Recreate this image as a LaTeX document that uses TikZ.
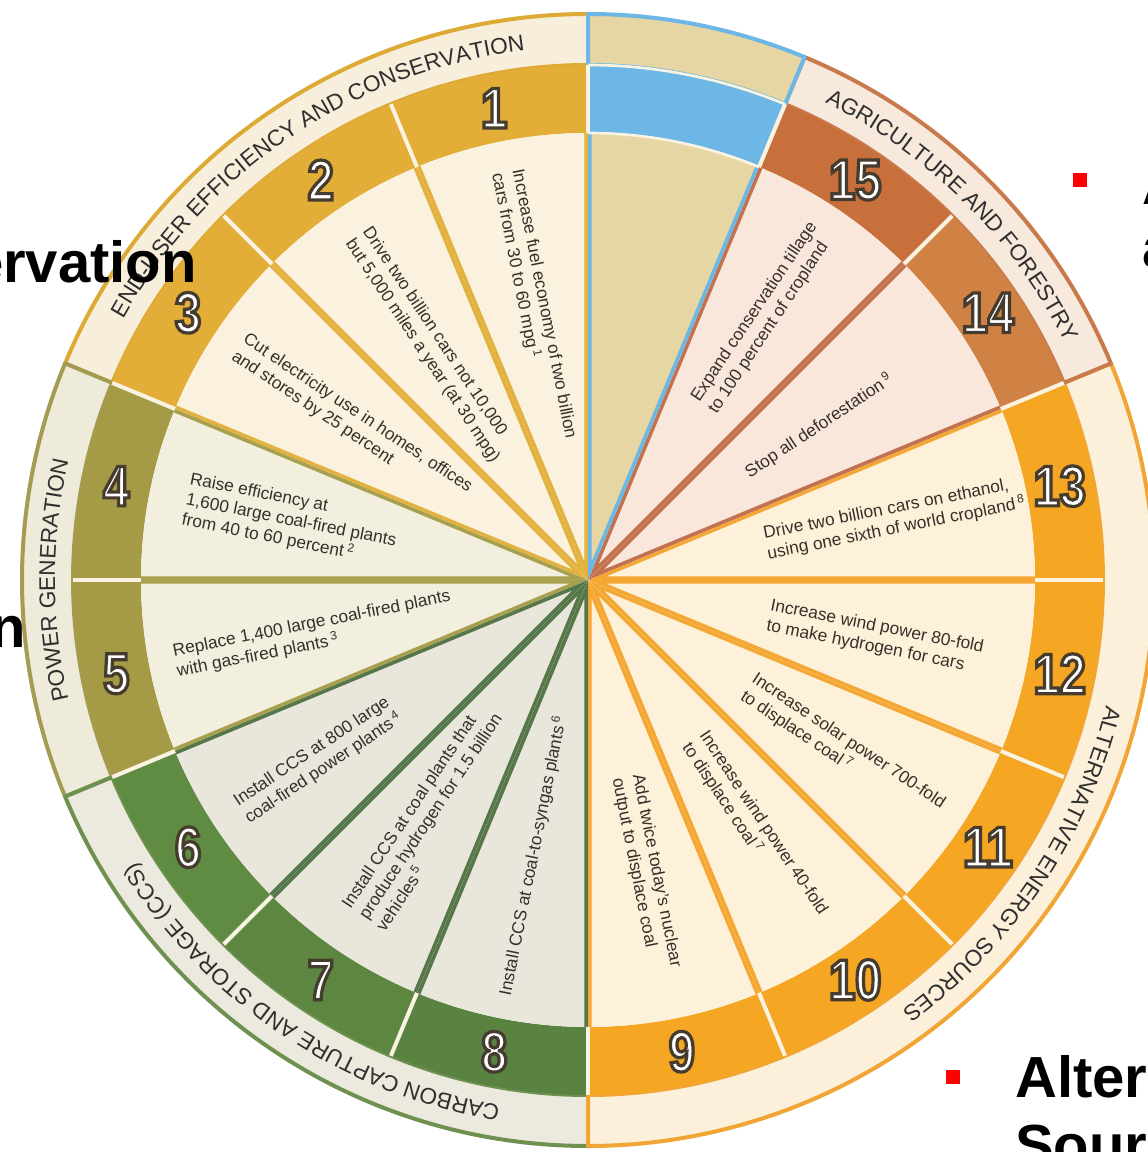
\documentclass[tikz,border=0pt]{standalone}
\usepackage{fontspec}
\setmainfont{Liberation Sans}
\newfontfamily\numfont[FakeStretch=0.82]{Liberation Sans}
\usetikzlibrary{decorations.text,calc}

\definecolor{euR}{HTML}{E3AE38}\definecolor{euW}{HTML}{FAF1DF}\definecolor{euS}{HTML}{E2B13E}\definecolor{euL}{HTML}{F8EEDC}\definecolor{euO}{HTML}{DDAA35}
\definecolor{pgR}{HTML}{A59B46}\definecolor{pgW}{HTML}{F3EFDF}\definecolor{pgS}{HTML}{A9A04E}\definecolor{pgL}{HTML}{EFEBDA}\definecolor{pgO}{HTML}{A39C52}
\definecolor{ccRa}{HTML}{5F8B42}\definecolor{ccRb}{HTML}{5D8640}\definecolor{ccRc}{HTML}{5A8241}\definecolor{ccW}{HTML}{E9E6DC}\definecolor{ccS}{HTML}{55774A}\definecolor{ccL}{HTML}{ECE9DF}\definecolor{ccO}{HTML}{6E9150}
\definecolor{alR}{HTML}{F5A724}\definecolor{alW}{HTML}{FDF1DA}\definecolor{alS}{HTML}{F4A733}\definecolor{alL}{HTML}{FCF0DB}\definecolor{alO}{HTML}{F1A535}
\definecolor{agRa}{HTML}{D08244}\definecolor{agRb}{HTML}{C8703C}\definecolor{agW}{HTML}{F9E7DB}\definecolor{agS}{HTML}{C2724E}\definecolor{agL}{HTML}{F8E9DD}\definecolor{agO}{HTML}{C97A4C}
\definecolor{blK}{HTML}{E5D6A3}\definecolor{blB}{HTML}{6DB7E6}
\definecolor{gapc}{HTML}{FAF3E2}
\definecolor{txt}{HTML}{353029}
\definecolor{lbltxt}{HTML}{2F2F2F}

\newcommand{\lblfont}{\fontsize{17}{20}\selectfont}
\newcommand{\outlined}[1]{\special{pdf:literal direct 2 Tr 2.4 w 0.27 0.23 0.18 RG}#1\special{pdf:literal direct 0 Tr}}

\tikzset{
  wtxt/.style={font=\fontsize{13}{15.5}\selectfont, text=txt, align=left, inner sep=0pt},
  numfg/.style={font=\numfont\bfseries\fontsize{43}{43}\selectfont, text=white, inner sep=0pt},
  slide/.style={font=\fontsize{43.5}{50}\selectfont\bfseries, text=black, inner sep=0pt},
  bulletbox/.style={fill=red, minimum size=10.5pt, inner sep=0pt},
}

\newcommand{\bignum}[3]{\node[numfg] (#1) at (#2:481) {\outlined{#3}};}

\begin{document}
\begin{tikzpicture}[x=0.75pt,y=0.75pt]
\useasboundingbox (-588,-572) rectangle (560,580);
\fill[white] (-588,-572) rectangle (560,580);
\clip (-588,-572) rectangle (560,580);

% label rings
\foreach \a/\b/\fc/\oc in {90/157.5/euL/euO, 157.5/202.5/pgL/pgO, 202.5/270/ccL/ccO, 270/382.5/alL/alO, 382.5/427.5/agL/agO, 427.5/450/blK/blB}
  \filldraw[fill=\fc, draw=\oc, line width=3pt, line join=round]
    (\a:515) arc[start angle=\a, end angle=\b, radius=515] -- (\b:566)
    arc[start angle=\b, end angle=\a, radius=566] -- cycle;

% number ring
\foreach \i/\c in {1/euR,2/euR,3/euR,4/pgR,5/pgR,6/ccRa,7/ccRb,8/ccRc,9/alR,10/alR,11/alR,12/alR,13/alR,14/agRa,15/agRb,16/blB} {
  \pgfmathsetmacro\s{90+22.5*(\i-1)}
  \pgfmathsetmacro\e{\s+22.5}
  \fill[\c] (\s:447) arc[start angle=\s, end angle=\e, radius=447] -- (\e:515)
    arc[start angle=\e, end angle=\s, radius=515] -- cycle;
}

% inner wedges with spokes
\foreach \i/\w/\sc in {1/euW/euS,2/euW/euS,3/euW/euS,4/pgW/pgS,5/pgW/pgS,6/ccW/ccS,7/ccW/ccS,8/ccW/ccS,9/alW/alS,10/alW/alS,11/alW/alS,12/alW/alS,13/alW/alS,14/agW/agS,15/agW/agS,16/blK/blB} {
  \pgfmathsetmacro\s{90+22.5*(\i-1)}
  \pgfmathsetmacro\e{\s+22.5}
  \begin{scope}
    \clip (0,0) -- (\s:447) arc[start angle=\s, end angle=\e, radius=447] -- cycle;
    \fill[\w] (0,0) -- (\s:448) arc[start angle=\s, end angle=\e, radius=448] -- cycle;
    \draw[\sc, line width=5.5pt] (0,0) -- (\s:447) (0,0) -- (\e:447);
  \end{scope}
}

% light gaps in the number ring
\foreach \k in {0,...,15} {
  \pgfmathsetmacro\a{67.5+22.5*\k}
  \draw[gapc, line width=3pt] (\a:447) -- (\a:515);
}
\draw[gapc, line width=2pt] (67.5:447) arc[start angle=67.5, end angle=90, radius=447];
\draw[gapc, line width=2pt] (67.5:515) arc[start angle=67.5, end angle=90, radius=515];

% numbers
\bignum{n1}{101.25}{1}
\bignum{n2}{123.75}{2}
\bignum{n3}{146.25}{3}
\bignum{n4}{168.75}{4}
\bignum{n5}{191.25}{5}
\bignum{n6}{213.75}{6}
\bignum{n7}{236.25}{7}
\bignum{n8}{258.75}{8}
\bignum{n9}{281.25}{9}
\bignum{n10}{303.75}{10}
\bignum{n11}{326.25}{11}
\bignum{n12}{348.75}{12}
\bignum{n13}{11.25}{13}
\bignum{n14}{33.75}{14}
\bignum{n15}{56.25}{15}

% wedge texts
\node[wtxt, rotate=-78.75, anchor=west] (t1) at (101.25:417) {Increase fuel economy of two billion\\cars from 30 to 60 mpg\,\textsuperscript{1}};
\node[wtxt, rotate=-56.25, anchor=west] (t2) at (123.75:415) {Drive two billion cars not 10,000\\but 5,000 miles a year (at 30 mpg)};
\node[wtxt, rotate=-33.75, anchor=west] (t3) at (146.25:420) {Cut electricity use in homes, offices\\and stores by 25 percent};
\node[wtxt, rotate=-11.25, anchor=west] (t4) at (168.75:410) {Raise efficiency at\\1,600 large coal-fired plants\\from 40 to 60 percent\,\textsuperscript{2}};
\node[wtxt, rotate=11.25, anchor=west] (t5) at (191.25:421) {Replace 1,400 large coal-fired plants\\with gas-fired plants\,\textsuperscript{3}};
\node[wtxt, rotate=33.75, anchor=west] (t6) at (213.75:417) {Install CCS at 800 large\\coal-fired power plants\,\textsuperscript{4}};
\node[wtxt, rotate=56.25, anchor=west] (t7) at (236.25:406) {Install CCS at coal plants that\\produce hydrogen for 1.5 billion\\vehicles\,\textsuperscript{5}};
\node[wtxt, rotate=78.75, anchor=west] (t8) at (258.75:424) {Install CCS at coal-to-syngas plants\,\textsuperscript{6}};
\node[wtxt, rotate=-78.75, anchor=west] (t9) at (281.25:200) {Add twice today's nuclear\\output to displace coal};
\node[wtxt, rotate=-56.25, anchor=west] (t10) at (303.75:191) {Increase wind power 40-fold\\to displace coal\,\textsuperscript{7}};
\node[wtxt, rotate=-33.75, anchor=west] (t11) at (326.25:192) {Increase solar power 700-fold\\to displace coal\,\textsuperscript{7}};
\node[wtxt, rotate=-11.25, anchor=west] (t12) at (348.75:184) {Increase wind power 80-fold\\to make hydrogen for cars};
\node[wtxt, rotate=11.25, anchor=west] (t13) at (11.25:181) {Drive two billion cars on ethanol,\\using one sixth of world cropland\,\textsuperscript{8}};
\node[wtxt, rotate=33.75, anchor=west] (t14) at (33.75:191) {Stop all deforestation\,\textsuperscript{9}};
\node[wtxt, rotate=56.25, anchor=west] (t15) at (56.25:209) {Expand conservation tillage\\to 100 percent of cropland};

% category labels
\path[decorate, decoration={text along path, text align=center, text={|\lblfont\color{lbltxt}|END-USER EFFICIENCY AND CONSERVATION}}]
  (157.5:533) arc[start angle=157.5, end angle=90, radius=533];
\path[decorate, decoration={text along path, text align=center, text={|\lblfont\color{lbltxt}|POWER GENERATION}}]
  (202.5:533) arc[start angle=202.5, end angle=157.5, radius=533];
\path[decorate, decoration={text along path, text align=center, text={|\lblfont\color{lbltxt}|CARBON CAPTURE AND STORAGE (CCS)}}]
  (270:533) arc[start angle=270, end angle=202.5, radius=533];
\path[decorate, decoration={text along path, text align=center, text={|\lblfont\color{lbltxt}|ALTERNATIVE ENERGY SOURCES}}]
  (22.5:533) arc[start angle=22.5, end angle=-90, radius=533];
\path[decorate, decoration={text along path, text align=center, text={|\lblfont\color{lbltxt}|AGRICULTURE AND FORESTRY}}]
  (67.5:533) arc[start angle=67.5, end angle=22.5, radius=533];

% slide text lying over the picture
\node[slide, anchor=base east] (sl1) at (-391,297) {ervation};
\node[slide, anchor=base east] (sl2) at (-562,-68) {n};
\node[bulletbox] (b1) at (492,400) {};
\node[slide, anchor=base west] (sl3) at (554,375) {A};
\node[slide, anchor=base west] (sl4) at (554,312) {a};
\node[bulletbox] (b2) at (365,-497) {};
\node[slide, anchor=base west] (sl5) at (427,-517) {Altern};
\node[slide, anchor=base west] (sl6) at (427,-585) {Sourc};
\end{tikzpicture}
\end{document}
